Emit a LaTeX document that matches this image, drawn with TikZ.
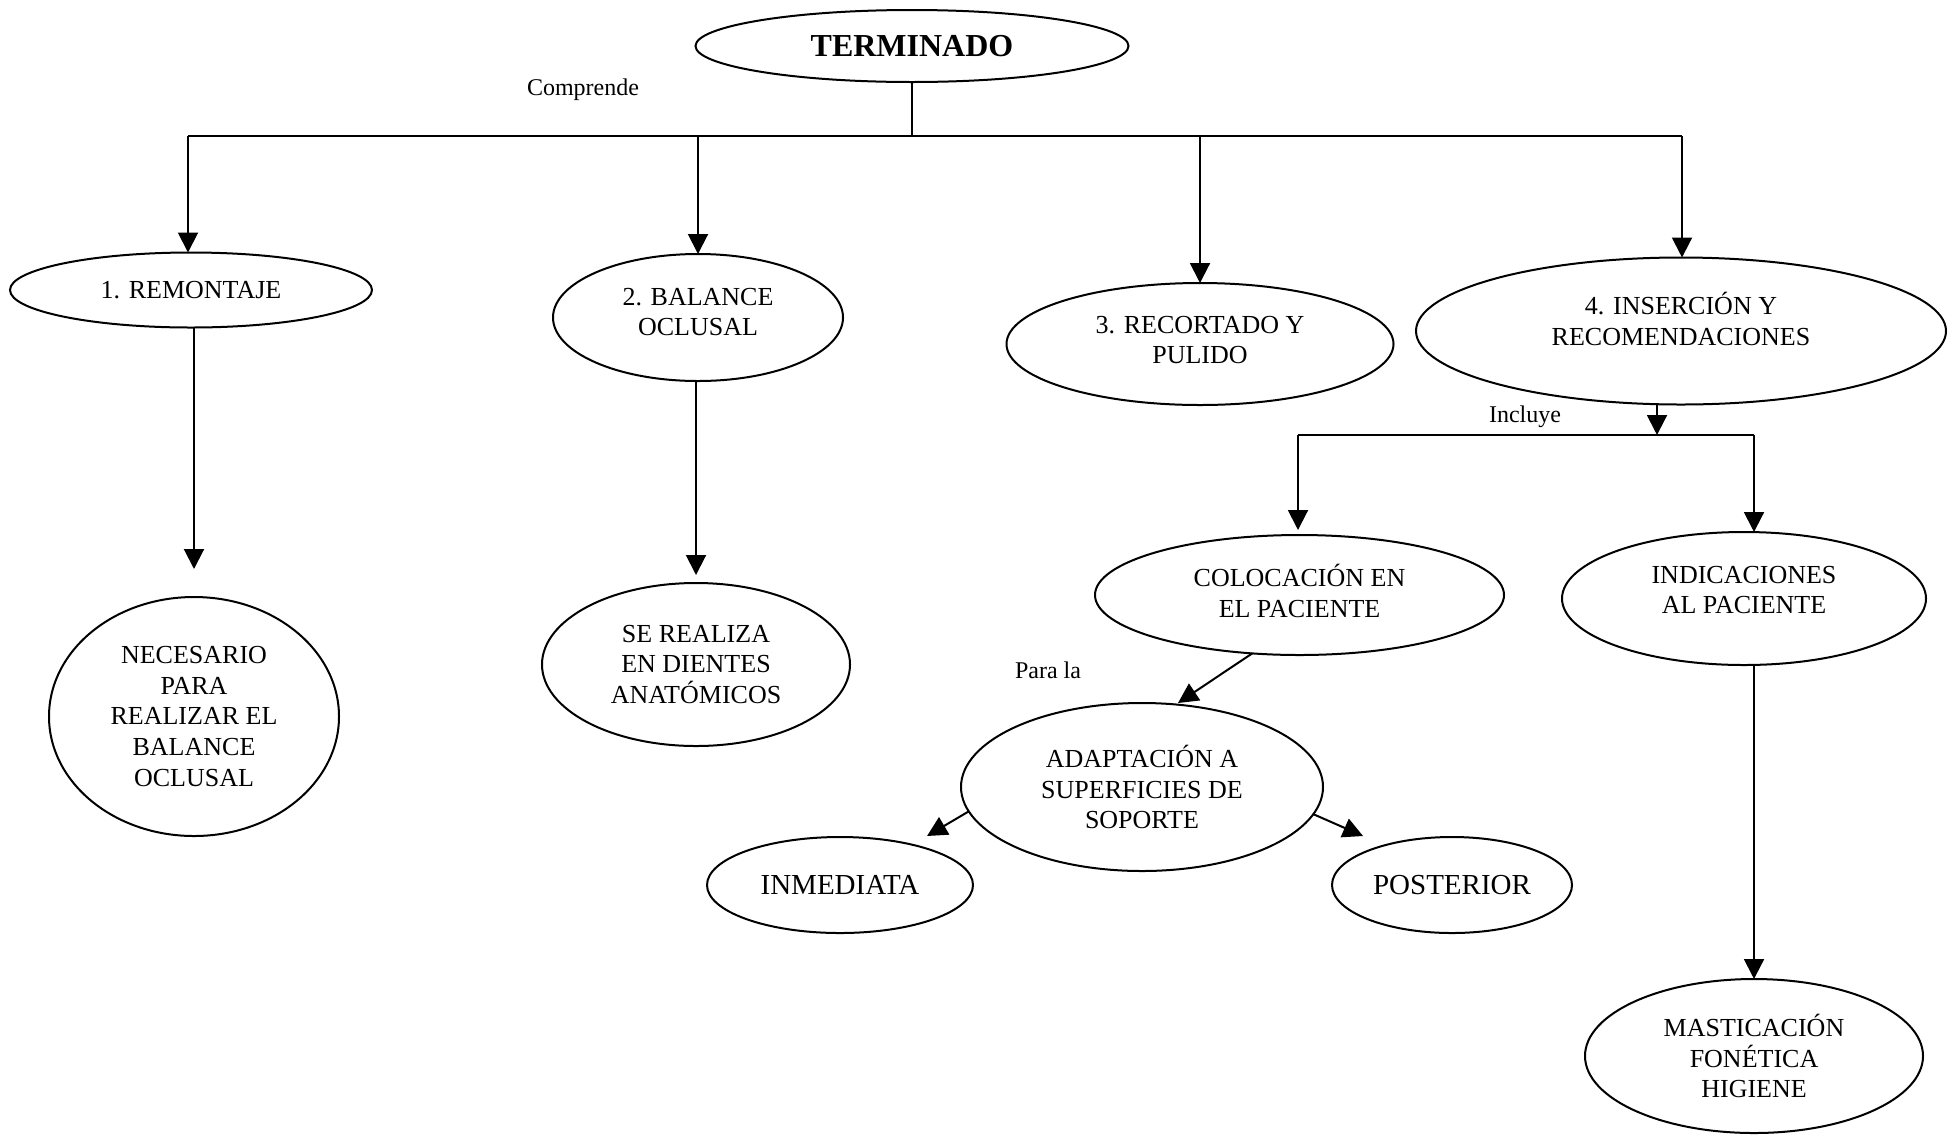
\documentclass[tikz,border=0pt]{standalone}
\usepackage{fontspec}
\setmainfont{Liberation Serif}
\usetikzlibrary{shapes.geometric,arrows.meta}
\begin{document}
\begin{tikzpicture}[x=0.5pt,y=-0.5pt,
  ell/.style={draw,ellipse,line width=1pt,inner sep=0pt,outer sep=0pt,align=center,
    font=\fontsize{13}{15.3}\selectfont},
  txt/.style={inner sep=0pt,align=center,font=\fontsize{13}{15.3}\selectfont},
  arr/.style={line width=1pt,-{Triangle[width=10pt,length=10pt]}},
  ln/.style={line width=1pt},
  lbl/.style={inner sep=0pt,font=\fontsize{12}{14}\selectfont}]
\useasboundingbox (0,0) rectangle (1957,1136);

% nodes
\node[ell,minimum width=216.5pt,minimum height=36pt,font=\fontsize{16}{18}\selectfont\bfseries] (t) at (912,46) {TERMINADO};
\node[ell,minimum width=181pt,minimum height=37.5pt] (n1) at (191,290) {1. REMONTAJE};
\node[ell,minimum width=145pt,minimum height=63.5pt] (n2) at (698,317.5) {};
\node[txt] (n2t) at (698,312) {2. BALANCE\\OCLUSAL};
\node[ell,minimum width=193.5pt,minimum height=61pt] (n3) at (1200,344) {};
\node[txt] (n3t) at (1200,340) {3. RECORTADO Y\\PULIDO};
\node[ell,minimum width=265pt,minimum height=73.5pt] (n4) at (1681,331) {};
\node[txt] (n4t) at (1681,319) {4. INSERCIÓN Y\\RECOMENDACIONES};
\node[ell,minimum width=145pt,minimum height=119.5pt] (n5) at (194,716.5) {NECESARIO\\PARA\\REALIZAR EL\\BALANCE\\OCLUSAL};
\node[ell,minimum width=154pt,minimum height=81.5pt] (n6) at (696,664.5) {SE REALIZA\\EN DIENTES\\ANATÓMICOS};
\node[ell,minimum width=204.5pt,minimum height=60pt] (n7) at (1299.5,595) {};
\node[txt] (n7t) at (1299.5,591) {COLOCACIÓN EN\\EL PACIENTE};
\node[ell,minimum width=182pt,minimum height=66.5pt] (n8) at (1744,598.5) {};
\node[txt] (n8t) at (1744,590) {INDICACIONES\\AL PACIENTE};
\node[ell,minimum width=169pt,minimum height=77pt] (n9) at (1754,1056) {MASTICACIÓN\\FONÉTICA\\HIGIENE};
\node[ell,minimum width=181pt,minimum height=84pt] (n10) at (1142,787) {ADAPTACIÓN A\\SUPERFICIES DE\\SOPORTE};
\node[ell,minimum width=133pt,minimum height=48pt,font=\fontsize{14.5}{16}\selectfont] (n11) at (840,885) {INMEDIATA};
\node[ell,minimum width=120pt,minimum height=48pt,font=\fontsize{14.5}{16}\selectfont] (n12) at (1452,885) {POSTERIOR};

% labels
\node[lbl] (lc) at (583,90) {Comprende};
\node[lbl] (li) at (1525,417) {Incluye};
\node[lbl] (lp) at (1048,670) {Para la};

% junction coordinates
\coordinate (jL) at (188,136);
\coordinate (jR) at (1682,136);
\coordinate (jI) at (1657,435);
\coordinate (kL) at (1298,435);
\coordinate (kR) at (1754,435);
\coordinate (pa) at (1178,703);
\coordinate (pi) at (927,836);
\coordinate (pp) at (1363,836);

% connectors
\draw[ln] (t.south) -- (t.south |- jL);
\draw[ln] (jL) -- (jR);
\draw[arr] (jL) -- (jL |- n1.north);
\draw[arr] (jL -| n2.north) -- (n2.north);
\draw[arr] (jL -| n3.north) -- (n3.north);
\draw[arr] (jR) -- (jR |- n4.north);
\draw[arr,shorten >=14pt] (n5.north |- n1.south) -- (n5.north);
\draw[arr,shorten >=4pt] (n2.south) -- (n2.south -| n6.north) -- (n6.north);
\draw[arr] (jI |- n4.south) -- (jI);
\draw[ln] (kL) -- (kR);
\draw[arr,shorten >=2.5pt] (kL) -- (kL |- n7.north);
\draw[arr] (kR) -- (kR |- n8.north);
\draw[arr] (n8.south -| n9.north) -- (n9.north);
\draw[arr] (n7.231) -- (pa);
\draw[arr] (n10.188.6) -- (pi);
\draw[arr] (n10.351.5) -- (pp);
\end{tikzpicture}
\end{document}
